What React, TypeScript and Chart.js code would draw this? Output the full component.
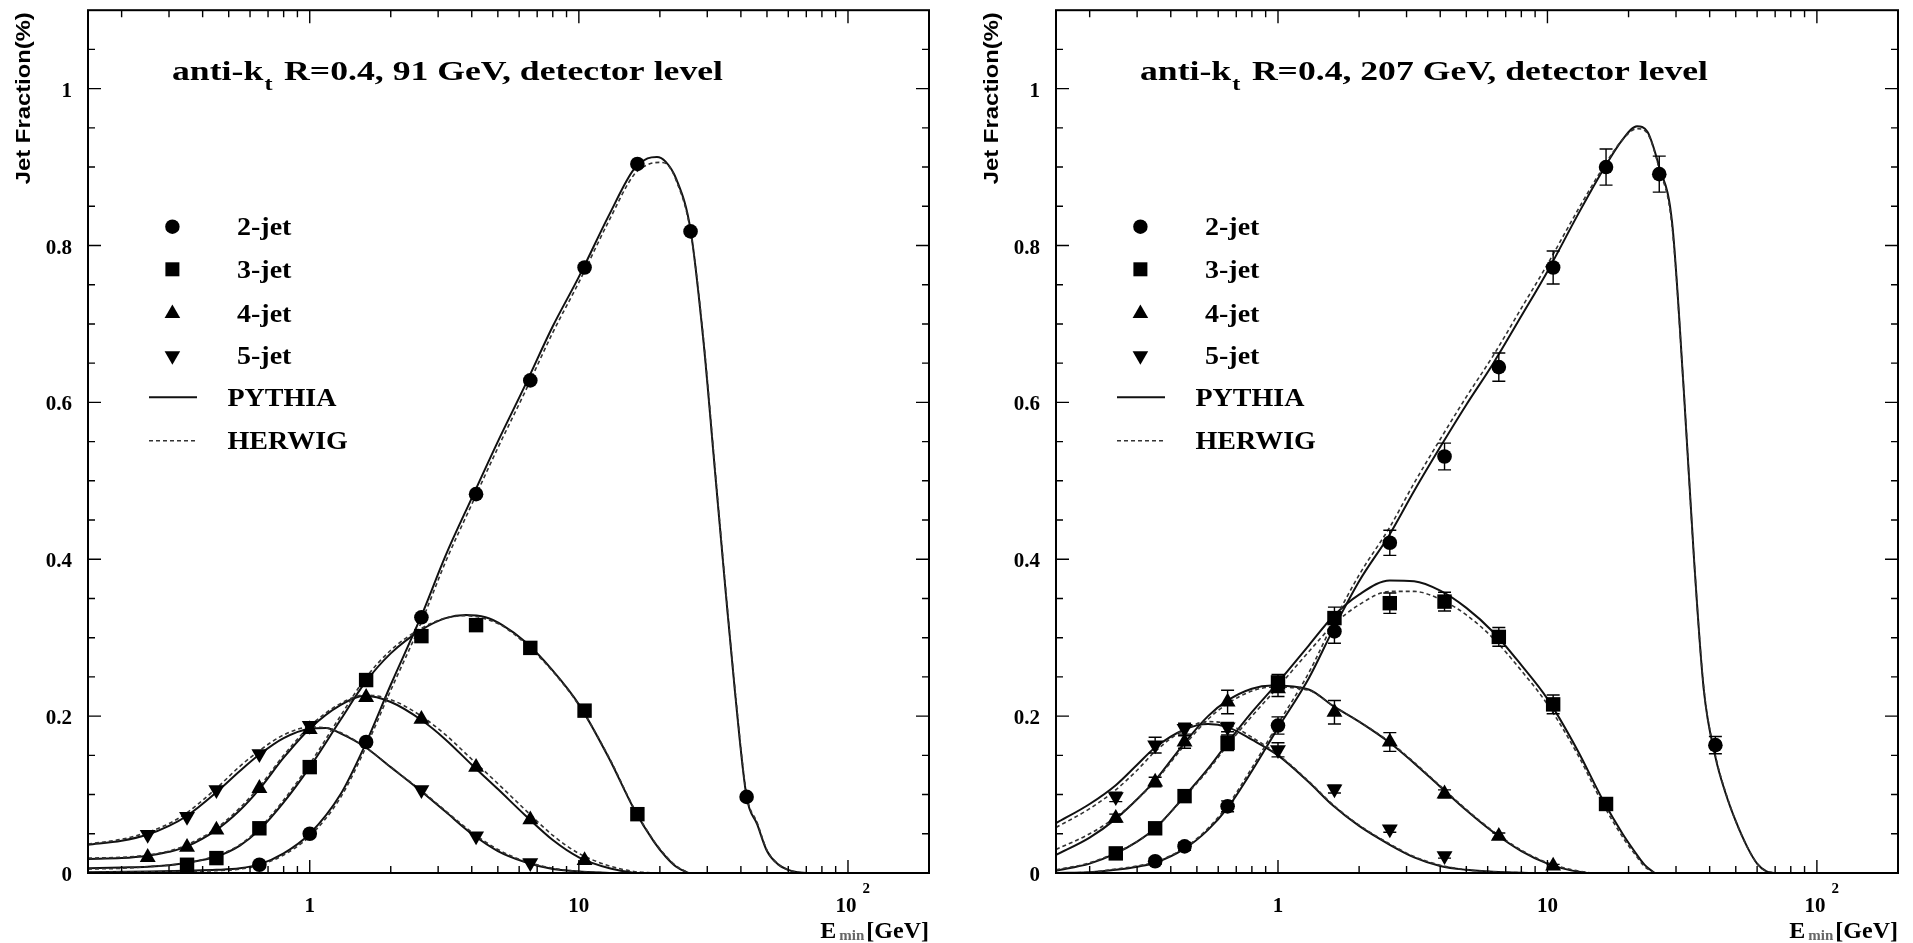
import React, { useEffect, useRef } from "react";
import { Chart, registerables } from "chart.js";

Chart.register(...registerables);

// ---------------- axes ----------------
const X_MIN = 0.15;
const X_MAX = 200;
const Y_MIN = 0;
const Y_MAX = 1.1;
const Y_MINOR_STEP = 0.05;
const Y_TICK_VALUES = [0, 0.2, 0.4, 0.6, 0.8, 1.0];
const Y_TICK_LABELS = ["0", "0.2", "0.4", "0.6", "0.8", "1"];
const X_TICK_VALUES = [1, 10, 100];
const X_TICK_LABELS = ["1", "10", "10"];
const X_TICK_EXPONENTS = ["", "", "2"];
const Y_TITLE = "Jet Fraction(%)";

// ---------------- legend ----------------
const LEGEND_MARKER_LABELS = ["2-jet", "3-jet", "4-jet", "5-jet"];
const LEGEND_LINE_LABELS = ["PYTHIA", "HERWIG"];

// ---------------- measured points (E_min in GeV) ----------------
const E_MIN_POINTS = [0.25, 0.35, 0.45, 0.65, 1.0, 1.62, 2.6, 4.15, 6.6, 10.5, 16.5, 26, 42];

// 91 GeV
const JET2_91 = [null, null, null, 0.0105, 0.05, 0.167, 0.326, 0.483, 0.628, 0.772, 0.904, 0.818, 0.097];
const JET3_91 = [null, 0.0105, 0.019, 0.057, 0.135, 0.246, 0.302, 0.316, 0.287, 0.207, 0.075, null, null];
const JET4_91 = [0.02, 0.033, 0.055, 0.108, 0.183, 0.224, 0.196, 0.135, 0.068, 0.016, null, null, null];
const JET5_91 = [0.049, 0.072, 0.106, 0.152, 0.188, null, 0.106, 0.047, 0.013, null, null, null, null];

// 207 GeV
const JET2_207 = [null, 0.015, 0.034, 0.085, 0.188, 0.308, 0.421, 0.531, 0.645, 0.772, 0.9, 0.891, 0.163];
const JET3_207 = [0.025, 0.057, 0.098, 0.166, 0.243, 0.325, 0.344, 0.346, 0.301, 0.215, 0.088, null, null];
const JET4_207 = [0.07, 0.116, 0.167, 0.218, 0.235, 0.205, 0.167, 0.101, 0.047, 0.009, null, null, null];
const JET5_207 = [0.097, 0.163, 0.184, 0.186, 0.157, 0.107, 0.056, 0.022, null, null, null, null, null];

const JET2_207_ERR = [0, 0.004, 0.005, 0.007, 0.011, 0.015, 0.016, 0.017, 0.018, 0.021, 0.023, 0.023, 0.011];
const JET3_207_ERR = [0.004, 0.005, 0.006, 0.01, 0.01, 0.014, 0.013, 0.012, 0.012, 0.012, 0.008, 0, 0];
const JET4_207_ERR = [0.005, 0.006, 0.008, 0.015, 0.01, 0.015, 0.012, 0.005, 0.004, 0.002, 0, 0, 0];
const JET5_207_ERR = [0.006, 0.01, 0.007, 0.006, 0.009, 0.005, 0.004, 0.003, 0, 0, 0, 0, 0];

// ---------------- model curves [E_min, fraction] ----------------
const PYTHIA_2JET_91 = [[0.15, 0.001], [0.25, 0.002], [0.35, 0.003], [0.45, 0.004], [0.55, 0.006], [0.65, 0.011], [0.8, 0.025], [1.0, 0.05], [1.3, 0.1], [1.6, 0.162], [2.0, 0.24], [2.6, 0.328], [3.2, 0.405], [4.0, 0.478], [5.0, 0.55], [6.3, 0.621], [8.0, 0.697], [10, 0.76], [13, 0.84], [16, 0.897], [18, 0.911], [19.5, 0.913], [21, 0.907], [23, 0.885], [26, 0.82], [29, 0.68], [32, 0.515], [35, 0.364], [38, 0.232], [42, 0.097], [46, 0.062], [50, 0.028], [55, 0.011], [60, 0.004], [65, 0.001], [70, 0]];
const HERWIG_2JET_91 = [[0.15, 0.001], [0.35, 0.002], [0.45, 0.003], [0.55, 0.005], [0.65, 0.01], [0.8, 0.023], [1.0, 0.047], [1.3, 0.096], [1.6, 0.157], [2.0, 0.233], [2.6, 0.32], [3.2, 0.397], [4.0, 0.47], [5.0, 0.542], [6.3, 0.613], [8.0, 0.689], [10, 0.753], [13, 0.833], [16, 0.89], [18, 0.903], [20, 0.906], [21.5, 0.902], [23, 0.883], [26, 0.818], [29, 0.683], [32, 0.518], [35, 0.367], [38, 0.235], [42, 0.1], [46, 0.064], [50, 0.029], [55, 0.011], [60, 0.004], [65, 0.001], [70, 0]];
const PYTHIA_3JET_91 = [[0.15, 0.006], [0.2, 0.007], [0.25, 0.008], [0.3, 0.01], [0.35, 0.013], [0.45, 0.021], [0.55, 0.035], [0.65, 0.055], [0.8, 0.09], [1.0, 0.135], [1.3, 0.195], [1.6, 0.242], [2.0, 0.28], [2.6, 0.31], [3.2, 0.325], [3.8, 0.329], [4.5, 0.326], [5.2, 0.316], [6.3, 0.295], [8.0, 0.258], [10, 0.215], [13, 0.145], [16, 0.082], [19, 0.04], [21, 0.021], [23, 0.008], [25.5, 0]];
const HERWIG_3JET_91 = [[0.15, 0.005], [0.2, 0.006], [0.25, 0.008], [0.3, 0.01], [0.35, 0.013], [0.45, 0.022], [0.55, 0.036], [0.65, 0.057], [0.8, 0.093], [1.0, 0.139], [1.3, 0.2], [1.6, 0.247], [2.0, 0.284], [2.6, 0.312], [3.2, 0.325], [3.8, 0.328], [4.5, 0.324], [5.2, 0.315], [6.3, 0.293], [8.0, 0.257], [10, 0.214], [13, 0.146], [16, 0.083], [19, 0.041], [21, 0.022], [23, 0.009], [25.5, 0]];
const PYTHIA_4JET_91 = [[0.15, 0.018], [0.2, 0.019], [0.25, 0.022], [0.3, 0.027], [0.35, 0.034], [0.45, 0.055], [0.55, 0.08], [0.65, 0.107], [0.8, 0.147], [1.0, 0.184], [1.3, 0.214], [1.6, 0.226], [2.0, 0.218], [2.6, 0.195], [3.2, 0.17], [4.0, 0.138], [5.0, 0.107], [6.3, 0.074], [8.0, 0.042], [10, 0.02], [13, 0.006], [16, 0]];
const HERWIG_4JET_91 = [[0.15, 0.019], [0.2, 0.02], [0.25, 0.023], [0.3, 0.028], [0.35, 0.036], [0.45, 0.057], [0.55, 0.083], [0.65, 0.11], [0.8, 0.15], [1.0, 0.187], [1.3, 0.216], [1.6, 0.227], [2.0, 0.221], [2.6, 0.2], [3.2, 0.176], [4.0, 0.145], [5.0, 0.114], [6.3, 0.081], [8.0, 0.048], [10, 0.025], [13, 0.009], [16, 0.002], [19, 0]];
const PYTHIA_5JET_91 = [[0.15, 0.036], [0.2, 0.041], [0.25, 0.049], [0.3, 0.06], [0.35, 0.073], [0.45, 0.103], [0.55, 0.13], [0.65, 0.151], [0.8, 0.172], [1.0, 0.184], [1.15, 0.185], [1.3, 0.178], [1.6, 0.161], [2.0, 0.135], [2.6, 0.104], [3.2, 0.078], [4.0, 0.05], [5.0, 0.028], [6.3, 0.014], [8.0, 0.005], [10, 0.002], [13, 0]];
const HERWIG_5JET_91 = [[0.15, 0.037], [0.2, 0.043], [0.25, 0.052], [0.3, 0.063], [0.35, 0.077], [0.45, 0.108], [0.55, 0.136], [0.65, 0.156], [0.8, 0.176], [1.0, 0.186], [1.15, 0.185], [1.3, 0.179], [1.6, 0.161], [2.0, 0.135], [2.6, 0.105], [3.2, 0.079], [4.0, 0.052], [5.0, 0.03], [6.3, 0.015], [8.0, 0.006], [10, 0.002], [13, 0]];

const PYTHIA_2JET_207 = [[0.15, 0], [0.2, 0.001], [0.25, 0.004], [0.3, 0.008], [0.35, 0.013], [0.45, 0.031], [0.55, 0.055], [0.65, 0.083], [0.8, 0.13], [1.0, 0.185], [1.3, 0.248], [1.6, 0.31], [2.0, 0.372], [2.6, 0.432], [3.2, 0.487], [4.0, 0.543], [5.0, 0.597], [6.3, 0.65], [8.0, 0.71], [10, 0.767], [13, 0.84], [16, 0.895], [19, 0.935], [21.5, 0.952], [23.5, 0.945], [26, 0.9], [29, 0.83], [32, 0.62], [35, 0.4], [38, 0.235], [42, 0.148], [46, 0.1], [50, 0.066], [55, 0.034], [60, 0.012], [65, 0.002], [70, 0]];
const HERWIG_2JET_207 = [[0.15, 0], [0.2, 0.001], [0.25, 0.005], [0.3, 0.009], [0.35, 0.014], [0.45, 0.032], [0.55, 0.057], [0.65, 0.086], [0.8, 0.134], [1.0, 0.19], [1.3, 0.255], [1.6, 0.318], [2.0, 0.38], [2.6, 0.441], [3.2, 0.497], [4.0, 0.553], [5.0, 0.607], [6.3, 0.66], [8.0, 0.72], [10, 0.776], [13, 0.846], [16, 0.898], [19, 0.935], [21.5, 0.949], [23.5, 0.943], [26, 0.898], [29, 0.825], [32, 0.62], [35, 0.4], [38, 0.237], [42, 0.15], [46, 0.101], [50, 0.066], [55, 0.034], [60, 0.012], [65, 0.002], [70, 0]];
const PYTHIA_3JET_207 = [[0.15, 0.003], [0.2, 0.012], [0.25, 0.025], [0.3, 0.04], [0.35, 0.057], [0.45, 0.098], [0.55, 0.133], [0.65, 0.166], [0.8, 0.205], [1.0, 0.243], [1.3, 0.29], [1.6, 0.327], [2.0, 0.355], [2.6, 0.373], [3.2, 0.372], [4.0, 0.36], [5.0, 0.338], [6.3, 0.307], [8.0, 0.265], [10, 0.222], [13, 0.155], [16, 0.094], [19, 0.05], [21, 0.028], [23, 0.01], [25, 0]];
const HERWIG_3JET_207 = [[0.15, 0.004], [0.2, 0.013], [0.25, 0.026], [0.3, 0.04], [0.35, 0.057], [0.45, 0.097], [0.55, 0.131], [0.65, 0.163], [0.8, 0.2], [1.0, 0.237], [1.3, 0.282], [1.6, 0.316], [2.0, 0.342], [2.6, 0.359], [3.2, 0.359], [4.0, 0.349], [5.0, 0.329], [6.3, 0.299], [8.0, 0.258], [10, 0.215], [13, 0.15], [16, 0.089], [19, 0.046], [21, 0.025], [23, 0.008], [25, 0]];
const PYTHIA_4JET_207 = [[0.15, 0.023], [0.2, 0.045], [0.25, 0.069], [0.3, 0.094], [0.35, 0.118], [0.45, 0.166], [0.55, 0.2], [0.65, 0.22], [0.8, 0.235], [0.95, 0.239], [1.3, 0.234], [1.6, 0.213], [2.0, 0.193], [2.6, 0.166], [3.2, 0.14], [4.0, 0.11], [5.0, 0.08], [6.3, 0.052], [8.0, 0.028], [10, 0.012], [12, 0.004], [14, 0]];
const HERWIG_4JET_207 = [[0.15, 0.03], [0.2, 0.05], [0.25, 0.071], [0.3, 0.094], [0.35, 0.117], [0.45, 0.163], [0.55, 0.196], [0.65, 0.216], [0.8, 0.232], [0.95, 0.237], [1.3, 0.233], [1.6, 0.213], [2.0, 0.193], [2.6, 0.167], [3.2, 0.141], [4.0, 0.111], [5.0, 0.081], [6.3, 0.053], [8.0, 0.029], [10, 0.013], [12, 0.005], [14.5, 0]];
const PYTHIA_5JET_207 = [[0.15, 0.0635], [0.2, 0.088], [0.25, 0.112], [0.3, 0.138], [0.35, 0.16], [0.45, 0.183], [0.55, 0.19], [0.65, 0.186], [0.8, 0.17], [1.0, 0.15], [1.3, 0.116], [1.6, 0.086], [2.0, 0.06], [2.6, 0.036], [3.2, 0.02], [4.0, 0.009], [5.0, 0.004], [6.3, 0.0015], [9, 0]];
const HERWIG_5JET_207 = [[0.15, 0.058], [0.2, 0.082], [0.25, 0.106], [0.3, 0.131], [0.35, 0.155], [0.45, 0.183], [0.55, 0.193], [0.65, 0.19], [0.8, 0.173], [1.0, 0.151], [1.3, 0.117], [1.6, 0.087], [2.0, 0.061], [2.6, 0.037], [3.2, 0.021], [4.0, 0.01], [5.0, 0.004], [6.3, 0.0015], [9, 0]];

// ---------------- layout / styles ----------------
const PAGE_W = 1913;
const PAGE_H = 943;
const SERIF = '"Liberation Serif", "Times New Roman", serif';
const SANS = '"Liberation Sans", Arial, sans-serif';
const MARKER_STYLES = ["circle", "rect", "triangle", "triangle"];
const MARKER_ROT = [0, 0, 0, 180];
const MARKER_RADIUS = [7.3, 10.2, 9.2, 9.2];

const PANEL_91 = {
  canvasLeft: 0,
  canvasWidth: 960,
  padLeft: 88,
  padRight: 31,
  titleMain: " R=0.4, 91 GeV, detector level",
  titleWidth: 551,
  jets: [JET2_91, JET3_91, JET4_91, JET5_91],
  errors: null,
  pythia: [PYTHIA_2JET_91, PYTHIA_3JET_91, PYTHIA_4JET_91, PYTHIA_5JET_91],
  herwig: [HERWIG_2JET_91, HERWIG_3JET_91, HERWIG_4JET_91, HERWIG_5JET_91],
};

const PANEL_207 = {
  canvasLeft: 960,
  canvasWidth: 953,
  padLeft: 96,
  padRight: 15,
  titleMain: " R=0.4, 207 GeV, detector level",
  titleWidth: 568,
  jets: [JET2_207, JET3_207, JET4_207, JET5_207],
  errors: [JET2_207_ERR, JET3_207_ERR, JET4_207_ERR, JET5_207_ERR],
  pythia: [PYTHIA_2JET_207, PYTHIA_3JET_207, PYTHIA_4JET_207, PYTHIA_5JET_207],
  herwig: [HERWIG_2JET_207, HERWIG_3JET_207, HERWIG_4JET_207, HERWIG_5JET_207],
};

function drawMarker(ctx, j, x, y) {
  ctx.beginPath();
  if (j === 0) {
    ctx.arc(x, y, 7.2, 0, Math.PI * 2);
  } else if (j === 1) {
    ctx.rect(x - 7, y - 7, 14, 14);
  } else if (j === 2) {
    ctx.moveTo(x, y - 8.8);
    ctx.lineTo(x + 7.8, y + 4.8);
    ctx.lineTo(x - 7.8, y + 4.8);
    ctx.closePath();
  } else {
    ctx.moveTo(x, y + 8.8);
    ctx.lineTo(x + 7.8, y - 4.8);
    ctx.lineTo(x - 7.8, y - 4.8);
    ctx.closePath();
  }
  ctx.fill();
}

function overlayPlugin(panel) {
  return {
    id: "rootStyle",
    afterDatasetsDraw(chart) {
      if (!panel.errors) return;
      const ctx = chart.ctx;
      const xs = chart.scales.x;
      const ys = chart.scales.y;
      ctx.save();
      ctx.strokeStyle = "#000";
      ctx.lineWidth = 1.4;
      panel.jets.forEach((vals, j) => {
        const errs = panel.errors[j];
        vals.forEach((v, i) => {
          const e = errs[i];
          if (v == null || !e) return;
          const px = xs.getPixelForValue(E_MIN_POINTS[i]);
          const y1 = ys.getPixelForValue(v + e);
          const y2 = ys.getPixelForValue(v - e);
          ctx.beginPath();
          ctx.moveTo(px, y1);
          ctx.lineTo(px, y2);
          ctx.moveTo(px - 6.5, y1);
          ctx.lineTo(px + 6.5, y1);
          ctx.moveTo(px - 6.5, y2);
          ctx.lineTo(px + 6.5, y2);
          ctx.stroke();
        });
      });
      ctx.restore();
    },
    afterDraw(chart) {
      const ctx = chart.ctx;
      const a = chart.chartArea;
      const xs = chart.scales.x;
      const ys = chart.scales.y;
      ctx.save();
      ctx.fillStyle = "#000";
      ctx.strokeStyle = "#000";

      // ticks (inward, on all four sides)
      ctx.lineWidth = 1.4;
      ctx.beginPath();
      [-1, 0, 1, 2].forEach((ex) => {
        for (let m = 1; m <= 9; m++) {
          const v = m * Math.pow(10, ex);
          if (v <= X_MIN * 1.0001 || v >= X_MAX * 0.9999) continue;
          const px = xs.getPixelForValue(v);
          const len = m === 1 ? 13 : 7;
          ctx.moveTo(px, a.bottom);
          ctx.lineTo(px, a.bottom - len);
          ctx.moveTo(px, a.top);
          ctx.lineTo(px, a.top + len);
        }
      });
      const nY = Math.round((Y_MAX - Y_MIN) / Y_MINOR_STEP);
      for (let k = 1; k < nY; k++) {
        const v = Y_MIN + k * Y_MINOR_STEP;
        const py = ys.getPixelForValue(v);
        const len = k % 4 === 0 ? 13 : 7;
        ctx.moveTo(a.left, py);
        ctx.lineTo(a.left + len, py);
        ctx.moveTo(a.right, py);
        ctx.lineTo(a.right - len, py);
      }
      ctx.stroke();

      // frame
      ctx.lineWidth = 2;
      ctx.strokeRect(a.left, a.top, a.right - a.left, a.bottom - a.top);

      // y tick labels
      ctx.font = `bold 21px ${SERIF}`;
      ctx.textAlign = "right";
      ctx.textBaseline = "alphabetic";
      Y_TICK_VALUES.forEach((v, i) => {
        const py = ys.getPixelForValue(v);
        ctx.fillText(Y_TICK_LABELS[i], a.left - 16, py + 8);
      });

      // x tick labels
      X_TICK_VALUES.forEach((v, i) => {
        const px = xs.getPixelForValue(v);
        ctx.font = `bold 21px ${SERIF}`;
        ctx.textAlign = "center";
        ctx.fillText(X_TICK_LABELS[i], px - (X_TICK_EXPONENTS[i] ? 2 : 0), a.bottom + 39);
        if (X_TICK_EXPONENTS[i]) {
          const w = ctx.measureText(X_TICK_LABELS[i]).width;
          ctx.font = `bold 15px ${SERIF}`;
          ctx.textAlign = "left";
          ctx.fillText(X_TICK_EXPONENTS[i], px - 2 + w / 2 + 6, a.bottom + 20);
        }
      });

      // x axis title  E_min [GeV]
      ctx.textAlign = "right";
      ctx.font = `bold 24px ${SERIF}`;
      let tx = a.right;
      ctx.fillText("[GeV]", tx, a.bottom + 65);
      tx -= ctx.measureText("[GeV]").width + 2;
      ctx.font = `bold 15px ${SERIF}`;
      ctx.fillStyle = "#666";
      ctx.fillText("min", tx, a.bottom + 67);
      tx -= ctx.measureText("min").width + 3;
      ctx.fillStyle = "#000";
      ctx.font = `bold 24px ${SERIF}`;
      ctx.fillText("E", tx, a.bottom + 65);

      // y axis title (rotated, aligned at top)
      ctx.save();
      ctx.translate(a.left - 64, a.top + 2);
      ctx.rotate(-Math.PI / 2);
      ctx.font = `bold 20px ${SANS}`;
      const yw = ctx.measureText(Y_TITLE).width;
      ctx.scale(172 / yw, 1);
      ctx.textAlign = "right";
      ctx.textBaseline = "middle";
      ctx.fillText(Y_TITLE, 0, 0);
      ctx.restore();

      // panel title: anti-k_t R=0.4, ...
      ctx.save();
      ctx.textAlign = "left";
      ctx.textBaseline = "alphabetic";
      ctx.font = `bold 28px ${SERIF}`;
      const w1 = ctx.measureText("anti-k").width;
      const w3 = ctx.measureText(panel.titleMain).width;
      ctx.font = `bold 19px ${SERIF}`;
      const w2 = ctx.measureText("t").width + 3;
      const sx = panel.titleWidth / (w1 + w2 + w3);
      ctx.translate(a.left + 84, 80);
      ctx.scale(sx, 1);
      ctx.font = `bold 28px ${SERIF}`;
      ctx.fillText("anti-k", 0, 0);
      ctx.font = `bold 19px ${SERIF}`;
      ctx.fillText("t", w1 + 1, 10);
      ctx.font = `bold 28px ${SERIF}`;
      ctx.fillText(panel.titleMain, w1 + w2, 0);
      ctx.restore();

      // legend
      const rows = [226.7, 269.3, 313.3, 356, 397.3, 440.7];
      LEGEND_MARKER_LABELS.forEach((lab, j) => {
        drawMarker(ctx, j, a.left + 84.4, rows[j]);
        ctx.save();
        ctx.translate(a.left + 149, rows[j] + 8.2);
        ctx.scale(1.12, 1);
        ctx.font = `bold 25px ${SERIF}`;
        ctx.textAlign = "left";
        ctx.fillText(lab, 0, 0);
        ctx.restore();
      });
      LEGEND_LINE_LABELS.forEach((lab, k) => {
        const y = rows[4 + k];
        ctx.save();
        ctx.beginPath();
        ctx.lineWidth = k === 0 ? 2 : 1.6;
        ctx.setLineDash(k === 0 ? [] : [4, 3]);
        ctx.strokeStyle = k === 0 ? "#111" : "#333";
        ctx.moveTo(a.left + 61, y);
        ctx.lineTo(a.left + 109, y);
        ctx.stroke();
        ctx.restore();
        ctx.save();
        ctx.translate(a.left + 139.5, y + 8.2);
        ctx.scale(1.12, 1);
        ctx.font = `bold 25px ${SERIF}`;
        ctx.textAlign = "left";
        ctx.fillText(lab, 0, 0);
        ctx.restore();
      });

      ctx.restore();
    },
  };
}

function curveDataset(pairs, dashed, label) {
  return {
    label,
    data: pairs.map(([x, y]) => ({ x, y })),
    showLine: true,
    pointRadius: 0,
    pointHoverRadius: 0,
    borderColor: dashed ? "#333" : "#111",
    backgroundColor: "transparent",
    borderWidth: dashed ? 1.6 : 2,
    borderDash: dashed ? [4, 3] : [],
    cubicInterpolationMode: "monotone",
    fill: false,
    order: dashed ? 1 : 2,
  };
}

function buildConfig(panel) {
  const datasets = [];
  panel.jets.forEach((vals, j) => {
    datasets.push({
      label: LEGEND_MARKER_LABELS[j],
      data: E_MIN_POINTS.map((x, i) => ({ x, y: vals[i] })).filter((p) => p.y != null),
      showLine: false,
      pointStyle: MARKER_STYLES[j],
      pointRotation: MARKER_ROT[j],
      pointRadius: MARKER_RADIUS[j],
      pointHoverRadius: MARKER_RADIUS[j],
      pointBackgroundColor: "#000",
      pointBorderColor: "#000",
      pointBorderWidth: 0,
      clip: false,
      order: 0,
    });
  });
  panel.pythia.forEach((pairs, j) => datasets.push(curveDataset(pairs, false, `PYTHIA ${j + 2}-jet`)));
  panel.herwig.forEach((pairs, j) => datasets.push(curveDataset(pairs, true, `HERWIG ${j + 2}-jet`)));
  return {
    type: "scatter",
    data: { datasets },
    options: {
      responsive: false,
      maintainAspectRatio: false,
      animation: false,
      devicePixelRatio: 1,
      events: [],
      layout: { padding: { left: panel.padLeft, right: panel.padRight, top: 8, bottom: 70 } },
      scales: {
        x: { type: "logarithmic", min: X_MIN, max: X_MAX, display: false },
        y: { type: "linear", min: Y_MIN, max: Y_MAX, display: false },
      },
      plugins: {
        legend: { display: false },
        tooltip: { enabled: false },
        title: { display: false },
      },
    },
    plugins: [overlayPlugin(panel)],
  };
}

function Panel({ panel }) {
  const ref = useRef(null);
  useEffect(() => {
    const chart = new Chart(ref.current, buildConfig(panel));
    return () => chart.destroy();
  }, [panel]);
  return (
    <canvas
      ref={ref}
      width={panel.canvasWidth}
      height={PAGE_H}
      style={{ position: "absolute", left: panel.canvasLeft, top: 0, width: panel.canvasWidth, height: PAGE_H }}
    />
  );
}

export default function App() {
  return (
    <div
      style={{
        position: "fixed",
        left: 0,
        top: 0,
        width: PAGE_W,
        height: PAGE_H,
        background: "#fff",
        overflow: "hidden",
      }}
    >
      <Panel panel={PANEL_91} />
      <Panel panel={PANEL_207} />
    </div>
  );
}
